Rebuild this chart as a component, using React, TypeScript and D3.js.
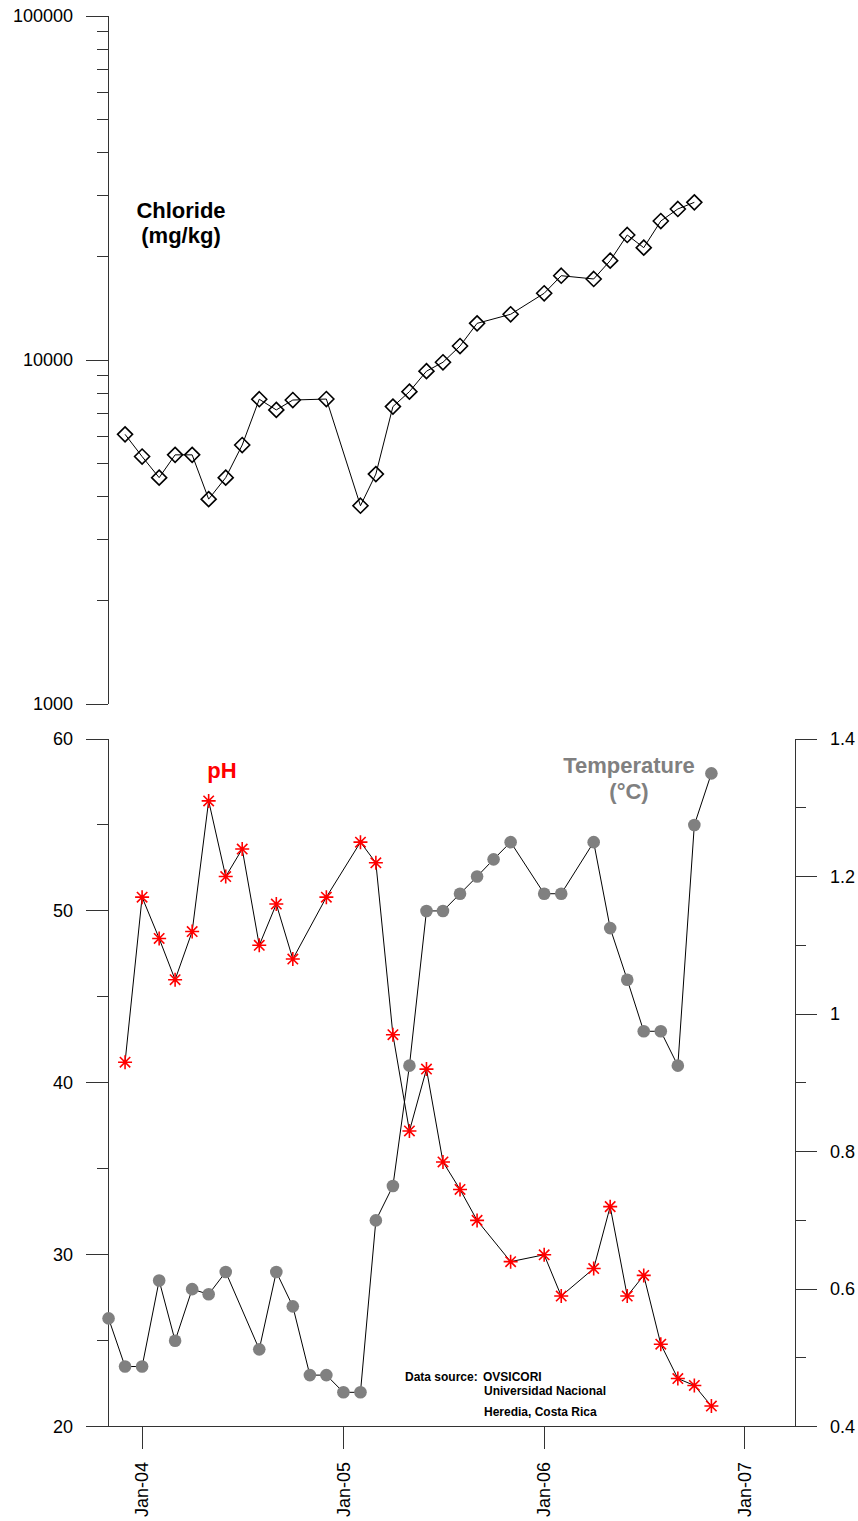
import React from 'react';
import * as d3 from 'd3';

// Chloride (mg/kg), log axis
const chlorideMonths = ['2003-12', '2004-01', '2004-02', '2004-03', '2004-04', '2004-05', '2004-06', '2004-07', '2004-08', '2004-09', '2004-10', '2004-12', '2005-02', '2005-03', '2005-04', '2005-05', '2005-06', '2005-07', '2005-08', '2005-09', '2005-11', '2006-01', '2006-02', '2006-04', '2006-05', '2006-06', '2006-07', '2006-08', '2006-09', '2006-10'];
const chlorideValues = [6080, 5240, 4550, 5300, 5300, 3940, 4550, 5660, 7690, 7160, 7650, 7700, 3770, 4660, 7320, 8090, 9280, 9850, 10980, 12780, 13580, 15630, 17580, 17200, 19440, 23090, 21210, 25350, 27480, 28730];

// Temperature (°C), left axis of lower panel
const tempMonths = ['2003-11', '2003-12', '2004-01', '2004-02', '2004-03', '2004-04', '2004-05', '2004-06', '2004-08', '2004-09', '2004-10', '2004-11', '2004-12', '2005-01', '2005-02', '2005-03', '2005-04', '2005-05', '2005-06', '2005-07', '2005-08', '2005-09', '2005-10', '2005-11', '2006-01', '2006-02', '2006-04', '2006-05', '2006-06', '2006-07', '2006-08', '2006-09', '2006-10', '2006-11'];
const tempValues = [26.3, 23.5, 23.5, 28.5, 25, 28, 27.7, 29, 24.5, 29, 27, 23, 23, 22, 22, 32, 34, 41, 50, 50, 51, 52, 53, 54, 51, 51, 54, 49, 46, 43, 43, 41, 55, 58];

// pH, right axis of lower panel
const phMonths = ['2003-12', '2004-01', '2004-02', '2004-03', '2004-04', '2004-05', '2004-06', '2004-07', '2004-08', '2004-09', '2004-10', '2004-12', '2005-02', '2005-03', '2005-04', '2005-05', '2005-06', '2005-07', '2005-08', '2005-09', '2005-11', '2006-01', '2006-02', '2006-04', '2006-05', '2006-06', '2006-07', '2006-08', '2006-09', '2006-10', '2006-11'];
const phValues = [0.93, 1.17, 1.11, 1.05, 1.12, 1.31, 1.2, 1.24, 1.1, 1.16, 1.08, 1.17, 1.25, 1.22, 0.97, 0.83, 0.92, 0.785, 0.745, 0.7, 0.64, 0.65, 0.59, 0.63, 0.72, 0.59, 0.62, 0.52, 0.47, 0.46, 0.43];

const xTickYears = [2004, 2005, 2006, 2007];
const clMajor = [1000, 10000, 100000];
const tempMajor = [20, 30, 40, 50, 60];
const tempMinor = [25, 35, 45, 55];
const phMajor = [0.4, 0.6, 0.8, 1.0, 1.2, 1.4];
const phMinor = [0.5, 0.7, 0.9, 1.1, 1.3];

const FONT = 'Liberation Sans, Arial, sans-serif';
const W = 858;
const H = 1521;
const left = 108;
const right = 795;

const parse = d3.timeParse('%Y-%m');
const fmt = d3.timeFormat('%b-%y');

const x = d3.scaleTime()
    .domain([new Date(2003, 9, 31), new Date(2007, 3, 2)])
    .range([left, right]);
const yCl = d3.scaleLog().domain([1000, 100000]).range([704, 16]);
const yT = d3.scaleLinear().domain([20, 60]).range([1426.7, 739]);
const yPh = d3.scaleLinear().domain([0.4, 1.4]).range([1426.7, 739]);

const clData = chlorideMonths.map((m, i) => ({ d: parse(m) as Date, v: chlorideValues[i] }));
const tData = tempMonths.map((m, i) => ({ d: parse(m) as Date, v: tempValues[i] }));
const phData = phMonths.map((m, i) => ({ d: parse(m) as Date, v: phValues[i] }));

const clMinor: number[] = [];
[1000, 10000].forEach(b => { for (let k = 2; k <= 9; k++) clMinor.push(b * k); });

const diamond = 'M0,-7.5L7.5,0L0,7.5L-7.5,0Z';
const star = 'M-7,0H7M0,-7V7M-5.2,-5.2L5.2,5.2M-5.2,5.2L5.2,-5.2';

const App: React.FC = () => {
    const lineCl = d3.line<{ d: Date; v: number }>().x(p => x(p.d)).y(p => yCl(p.v));
    const lineT = d3.line<{ d: Date; v: number }>().x(p => x(p.d)).y(p => yT(p.v));
    const linePh = d3.line<{ d: Date; v: number }>().x(p => x(p.d)).y(p => yPh(p.v));
    const axisCol = '#333';

    return (
        <svg width={W} height={H} style={{ position: 'absolute', left: 0, top: 0, background: '#fff' }} fontFamily={FONT}>
            {/* upper panel: chloride */}
            <g shapeRendering="crispEdges" stroke={axisCol}>
                <line x1={left} x2={left} y1={yCl(100000)} y2={yCl(1000)} />
                {clMajor.map(t => <line key={t} x1={left - 22} x2={left} y1={yCl(t)} y2={yCl(t)} />)}
                {clMinor.map(t => <line key={t} x1={left - 11} x2={left} y1={yCl(t)} y2={yCl(t)} />)}
            </g>
            {clMajor.map(t => (
                <text key={t} x={73} y={yCl(t)} dy="0.35em" textAnchor="end" fontSize={18}>{t}</text>
            ))}
            <path d={lineCl(clData) || ''} fill="none" stroke="#000" strokeWidth={1} />
            {clData.map((p, i) => (
                <path key={i} d={diamond} transform={`translate(${x(p.d)},${yCl(p.v)})`} fill="none" stroke="#000" strokeWidth={1.6} />
            ))}
            <text x={181} y={218} textAnchor="middle" fontSize={22} fontWeight="bold">Chloride</text>
            <text x={181} y={243} textAnchor="middle" fontSize={22} fontWeight="bold">(mg/kg)</text>

            {/* lower panel axes */}
            <g shapeRendering="crispEdges" stroke={axisCol}>
                <line x1={left} x2={left} y1={yT(60)} y2={yT(20)} />
                <line x1={right} x2={right} y1={yPh(1.4)} y2={yPh(0.4)} />
                <line x1={left} x2={right} y1={yT(20)} y2={yT(20)} />
                {tempMajor.map(t => <line key={t} x1={left - 22} x2={left} y1={yT(t)} y2={yT(t)} />)}
                {tempMinor.map(t => <line key={t} x1={left - 11} x2={left} y1={yT(t)} y2={yT(t)} />)}
                {phMajor.map(t => <line key={t} x1={right} x2={right + 22} y1={yPh(t)} y2={yPh(t)} />)}
                {phMinor.map(t => <line key={t} x1={right} x2={right + 11} y1={yPh(t)} y2={yPh(t)} />)}
                {xTickYears.map(yr => {
                    const xx = x(new Date(yr, 0, 1));
                    return <line key={yr} x1={xx} x2={xx} y1={yT(20)} y2={yT(20) + 22} />;
                })}
            </g>
            {tempMajor.map(t => (
                <text key={t} x={73} y={yT(t)} dy="0.35em" textAnchor="end" fontSize={18}>{t}</text>
            ))}
            {phMajor.map(t => (
                <text key={t} x={830} y={yPh(t)} dy="0.35em" textAnchor="start" fontSize={18}>{String(+t.toFixed(1))}</text>
            ))}
            {xTickYears.map(yr => {
                const xx = x(new Date(yr, 0, 1));
                return (
                    <text key={yr} transform={`translate(${xx},1462) rotate(-90)`} dy="0.35em" textAnchor="end" fontSize={18}>
                        {fmt(new Date(yr, 0, 1))}
                    </text>
                );
            })}

            {/* series */}
            <path d={lineT(tData) || ''} fill="none" stroke="#000" strokeWidth={1} />
            <path d={linePh(phData) || ''} fill="none" stroke="#000" strokeWidth={1} />
            {tData.map((p, i) => (
                <circle key={i} cx={x(p.d)} cy={yT(p.v)} r={6.3} fill="#808080" />
            ))}
            {phData.map((p, i) => (
                <path key={i} d={star} transform={`translate(${x(p.d)},${yPh(p.v)})`} fill="none" stroke="#ff0000" strokeWidth={1.6} />
            ))}

            <text x={222} y={778} textAnchor="middle" fontSize={22} fontWeight="bold" fill="#ff0000">pH</text>
            <text x={629} y={773} textAnchor="middle" fontSize={22} fontWeight="bold" fill="#808080">Temperature</text>
            <text x={629} y={799} textAnchor="middle" fontSize={22} fontWeight="bold" fill="#808080">(°C)</text>

            <g fontSize={12} fontWeight="bold">
                <text x={405} y={1381}>Data source:</text>
                <text x={483} y={1381}>OVSICORI</text>
                <text x={484} y={1395}>Universidad Nacional</text>
                <text x={484} y={1416}>Heredia, Costa Rica</text>
            </g>
        </svg>
    );
};

export default App;
